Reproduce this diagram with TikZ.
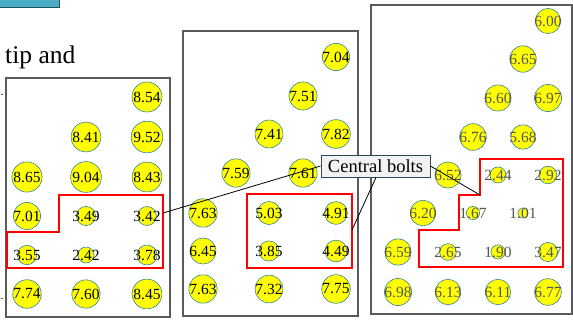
\documentclass[tikz,border=0pt]{standalone}
\usepackage{fontspec}
\setmainfont{Liberation Serif}
\definecolor{boltfill}{RGB}{255,255,0}
\definecolor{boltedge}{RGB}{49,133,156}
\definecolor{panelgray}{RGB}{90,90,90}
\definecolor{boltred}{RGB}{255,0,0}
\definecolor{rtxt}{RGB}{85,85,85}
\definecolor{barblue}{RGB}{75,172,198}
\definecolor{bardark}{RGB}{31,78,95}
\definecolor{calloutfill}{RGB}{242,242,242}
\definecolor{calloutedge}{RGB}{47,72,88}
\tikzset{
  boltc/.style={circle, fill=boltfill, draw=boltedge, line width=0.6pt, inner sep=0pt},
  bolttxt/.style={inner sep=0pt, font=\fontsize{15.5}{15.5}\selectfont},
  panel/.style={draw=panelgray, line width=1.2pt},
  redzone/.style={draw=boltred, line width=2pt},
  callout/.style={draw=calloutedge, fill=calloutfill, line width=0.9pt, minimum width=109pt, minimum height=22pt, inner sep=0pt, font=\fontsize{18.5}{18.5}\selectfont},
  leader/.style={draw=black, line width=0.8pt}
}
\newcommand\mybolt[5]{%
  \pgfmathsetmacro\bsz{10.26*sqrt(#4)}%
  \node[boltc, minimum size=\bsz pt] (#1) at (#2,#3) {};%
  \node[bolttxt, text=#5] (#1t) at (#1) {#4};%
}
\begin{document}
\begin{tikzpicture}[x=1pt,y=-1pt]
\useasboundingbox (0,0) rectangle (573,325);
% top bar and text
\fill[barblue, draw=bardark, line width=1pt] (-3,-5) rectangle (59,7);
\node[anchor=base west, inner sep=0pt, font=\fontsize{25.5}{25.5}\selectfont] (tipand) at (5,63) {tip and};
\draw[panelgray, line width=0.8pt] (1,94) -- (3,94);
\draw[panelgray, line width=0.8pt] (1,298) -- (3,298);
% panels
\draw[panel] (6,78) rectangle (170,317);
\draw[panel] (183,31) rectangle (358,316);
\draw[panel] (371,5) rectangle (572,314);
% left panel
\mybolt{a1}{147}{97}{8.54}{black}
\mybolt{a2}{86}{137}{8.41}{black}
\mybolt{a3}{147}{137}{9.52}{black}
\mybolt{a4}{27}{177}{8.65}{black}
\mybolt{a5}{86}{177}{9.04}{black}
\mybolt{a6}{147}{177}{8.43}{black}
\mybolt{a7}{27}{216}{7.01}{black}
\mybolt{a8}{86}{216}{3.49}{black}
\mybolt{a9}{147}{216}{3.42}{black}
\mybolt{a10}{27}{255}{3.55}{black}
\mybolt{a11}{86}{255}{2.42}{black}
\mybolt{a12}{147}{255}{3.78}{black}
\mybolt{a13}{27}{294}{7.74}{black}
\mybolt{a14}{86}{294}{7.60}{black}
\mybolt{a15}{147}{294}{8.45}{black}
% middle panel
\mybolt{b1}{336}{57}{7.04}{black}
\mybolt{b2}{303}{96}{7.51}{black}
\mybolt{b3}{269}{134}{7.41}{black}
\mybolt{b4}{336}{134}{7.82}{black}
\mybolt{b5}{236}{173}{7.59}{black}
\mybolt{b6}{303}{173}{7.61}{black}
\mybolt{b7}{203}{213}{7.63}{black}
\mybolt{b8}{269}{213}{5.03}{black}
\mybolt{b9}{336}{213}{4.91}{black}
\mybolt{b10}{203}{251}{6.45}{black}
\mybolt{b11}{269}{251}{3.85}{black}
\mybolt{b12}{336}{251}{4.49}{black}
\mybolt{b13}{203}{289}{7.63}{black}
\mybolt{b14}{269}{289}{7.32}{black}
\mybolt{b15}{336}{289}{7.75}{black}
% right panel
\mybolt{c1}{548}{21}{6.00}{rtxt}
\mybolt{c2}{523}{59}{6.65}{rtxt}
\mybolt{c3}{498}{98}{6.60}{rtxt}
\mybolt{c4}{548}{98}{6.97}{rtxt}
\mybolt{c5}{473}{137}{6.76}{rtxt}
\mybolt{c6}{523}{137}{5.68}{rtxt}
\mybolt{c7}{448}{175}{6.52}{rtxt}
\mybolt{c8}{498}{175}{2.44}{rtxt}
\mybolt{c9}{548}{175}{2.92}{rtxt}
\mybolt{c10}{423}{213}{6.20}{rtxt}
\mybolt{c11}{473}{213}{1.67}{rtxt}
\mybolt{c12}{523}{213}{1.01}{rtxt}
\mybolt{c13}{398}{252}{6.59}{rtxt}
\mybolt{c14}{448}{252}{2.65}{rtxt}
\mybolt{c15}{498}{252}{1.90}{rtxt}
\mybolt{c16}{548}{252}{3.47}{rtxt}
\mybolt{c17}{398}{292}{6.98}{rtxt}
\mybolt{c18}{448}{292}{6.13}{rtxt}
\mybolt{c19}{498}{292}{6.11}{rtxt}
\mybolt{c20}{548}{292}{6.77}{rtxt}
% red zones
\draw[redzone] (59,195) -- (163,195) -- (163,268) -- (7,268) -- (7,232) -- (59,232) -- cycle;
\draw[redzone] (247,194) rectangle (352,268);
\draw[redzone] (480,159) -- (563,159) -- (563,267) -- (419,267) -- (419,230) -- (459,230) -- (459,195) -- (480,195) -- cycle;
% leader end points on the zones
\coordinate (lz) at (163,213);
\coordinate (mz) at (352,230);
\coordinate (rz) at (480,195);
% callout
\node[callout] (cb) at (375.5,166) {Central bolts};
\draw[leader] (lz) -- (cb.west);
\draw[leader] (mz) -- ([xshift=0.5pt]cb.south);
\draw[leader] (cb.east) -- (rz);
\end{tikzpicture}
\end{document}
